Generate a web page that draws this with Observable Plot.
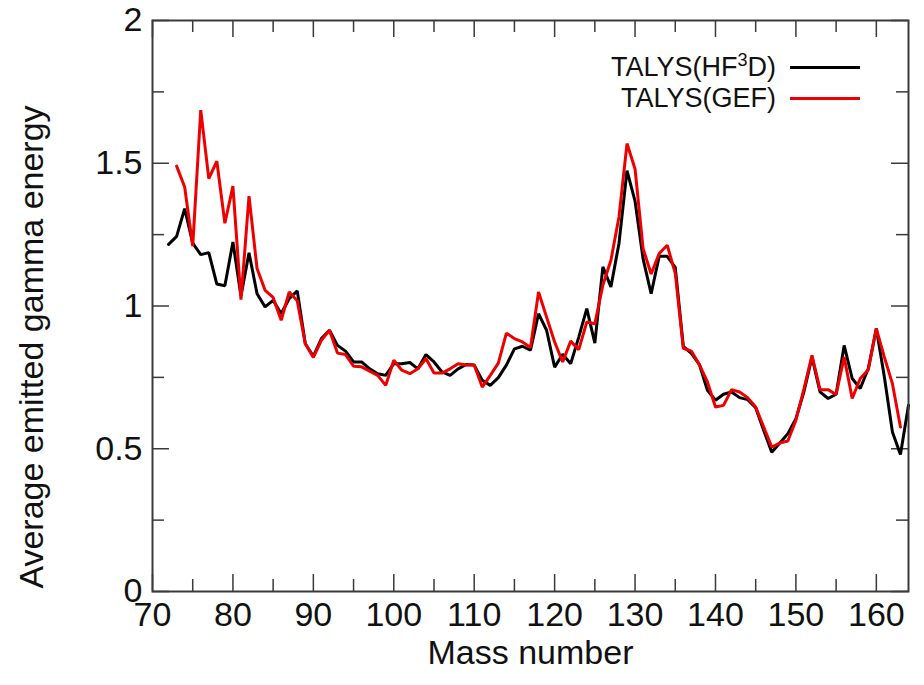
<!DOCTYPE html>
<html>
<head>
<meta charset="utf-8">
<script src="https://cdn.jsdelivr.net/npm/d3@7"></script>
<script src="https://cdn.jsdelivr.net/npm/@observablehq/plot@0.6"></script>
<style>
  html, body { margin: 0; padding: 0; background: #fff; }
  #wrap { position: relative; width: 924px; height: 685px; font-family: "Liberation Sans", Arial, sans-serif; }
  #legend { position: absolute; left: 560px; top: 52px; width: 310px; font-size: 27px; color: #111; }
  .row { display: flex; align-items: center; justify-content: flex-end; height: 31px; }
  .row span { margin-right: 14px; }
  .row sup { font-size: 18px; vertical-align: 10px; line-height: 0; }
  .sw { width: 70px; height: 3px; margin-right: 10px; }
  #ytitle { position: absolute; left: 31px; top: 347px; transform: translate(-50%, -50%) rotate(-90deg); white-space: nowrap; font-size: 34px; color: #111; }
</style>
</head>
<body>
<div id="wrap"></div>
<script>
// Mass numbers and average emitted gamma energies
const massHF3D = [72,73,74,75,76,77,78,79,80,81,82,83,84,85,86,87,88,89,90,91,92,93,94,95,96,97,98,99,100,101,102,103,104,105,106,107,108,109,110,111,112,113,114,115,116,117,118,119,120,121,122,123,124,125,126,127,128,129,130,131,132,133,134,135,136,137,138,139,140,141,142,143,144,145,146,147,148,149,150,151,152,153,154,155,156,157,158,159,160,161,162,163,164];
const gammaHF3D = [1.216,1.244,1.341,1.22,1.18,1.187,1.077,1.071,1.224,1.035,1.186,1.043,0.997,1.02,0.973,1.026,1.053,0.868,0.824,0.886,0.915,0.862,0.842,0.804,0.804,0.78,0.763,0.757,0.798,0.798,0.802,0.78,0.83,0.804,0.769,0.757,0.78,0.795,0.793,0.74,0.722,0.749,0.793,0.85,0.859,0.845,0.973,0.915,0.786,0.831,0.798,0.891,0.991,0.87,1.137,1.067,1.219,1.474,1.367,1.165,1.043,1.174,1.174,1.135,0.859,0.834,0.795,0.705,0.67,0.691,0.699,0.679,0.672,0.644,0.564,0.488,0.52,0.553,0.605,0.70,0.821,0.699,0.676,0.691,0.862,0.746,0.711,0.781,0.921,0.751,0.559,0.48,0.652];

const massGEF = [73,74,75,76,77,78,79,80,81,82,83,84,85,86,87,88,89,90,91,92,93,94,95,96,97,98,99,100,101,102,103,104,105,106,107,108,109,110,111,112,113,114,115,116,117,118,119,120,121,122,123,124,125,126,127,128,129,130,131,132,133,134,135,136,137,138,139,140,141,142,143,144,145,146,147,148,149,150,151,152,153,154,155,156,157,158,159,160,161,162,163];
const gammaGEF = [1.49,1.417,1.21,1.686,1.446,1.507,1.29,1.42,1.022,1.385,1.131,1.055,1.03,0.95,1.049,1.018,0.868,0.82,0.88,0.915,0.835,0.83,0.789,0.787,0.772,0.757,0.722,0.81,0.775,0.763,0.78,0.816,0.765,0.765,0.78,0.798,0.793,0.793,0.716,0.757,0.80,0.905,0.886,0.874,0.855,1.049,0.961,0.874,0.804,0.877,0.847,0.944,0.938,1.073,1.16,1.312,1.569,1.48,1.201,1.112,1.184,1.213,1.114,0.852,0.842,0.795,0.734,0.646,0.652,0.707,0.699,0.679,0.646,0.576,0.506,0.52,0.527,0.60,0.71,0.827,0.707,0.707,0.69,0.821,0.676,0.746,0.777,0.921,0.821,0.728,0.576];

const xMajor = [70,80,90,100,110,120,130,140,150,160];
const xMinor = [75,85,95,105,115,125,135,145,155];
const yMajor = [0,0.5,1,1.5,2];
const yMinor = [0.25,0.75,1.25,1.75];
const seriesNames = ["TALYS(HF3D)", "TALYS(GEF)"];
const xTitle = "Mass number";
const yTitle = "Average emitted gamma energy";

const hf3d = massHF3D.map((a, i) => ({a, v: gammaHF3D[i]}));
const gef = massGEF.map((a, i) => ({a, v: gammaGEF[i]}));

const W = 924, H = 685, mL = 152, mR = 16, mT = 20, mB = 94;
const fw = W - mL - mR, fh = H - mT - mB;
const maj = 17, mnr = 12;
const axisColor = "#3a3a3a";

const chart = Plot.plot({
  width: W, height: H,
  marginLeft: mL, marginRight: mR, marginTop: mT, marginBottom: mB,
  style: {fontFamily: "'Liberation Sans', Arial, sans-serif", color: "#111", background: "#fff"},
  x: {domain: [70, 164]},
  y: {domain: [0, 2]},
  marks: [
    // inward ticks, mirrored on all four sides
    Plot.ruleX(xMajor, {x: d => d, insetTop: fh - maj, stroke: axisColor, strokeWidth: 1.5}),
    Plot.ruleX(xMajor, {x: d => d, insetBottom: fh - maj, stroke: axisColor, strokeWidth: 1.5}),
    Plot.ruleX(xMinor, {x: d => d, insetTop: fh - mnr, stroke: axisColor, strokeWidth: 1.5}),
    Plot.ruleX(xMinor, {x: d => d, insetBottom: fh - mnr, stroke: axisColor, strokeWidth: 1.5}),
    Plot.ruleY(yMajor, {y: d => d, insetRight: fw - maj, stroke: axisColor, strokeWidth: 1.5}),
    Plot.ruleY(yMajor, {y: d => d, insetLeft: fw - maj, stroke: axisColor, strokeWidth: 1.5}),
    Plot.ruleY(yMinor, {y: d => d, insetRight: fw - mnr, stroke: axisColor, strokeWidth: 1.5}),
    Plot.ruleY(yMinor, {y: d => d, insetLeft: fw - mnr, stroke: axisColor, strokeWidth: 1.5}),
    Plot.axisX({ticks: xMajor, tickSize: 0, tickPadding: 10, fontSize: 34, label: null, tickFormat: d => String(d)}),
    Plot.axisY({ticks: yMajor, tickSize: 0, tickPadding: 10, fontSize: 34, label: null, tickFormat: d => String(d)}),
    Plot.line(hf3d, {x: "a", y: "v", stroke: "#000", strokeWidth: 3, strokeLinejoin: "miter"}),
    Plot.line(gef, {x: "a", y: "v", stroke: "#ee0000", strokeWidth: 3, strokeLinejoin: "miter"}),
    Plot.frame({stroke: axisColor, strokeWidth: 2}),
    Plot.text([xTitle], {text: d => d, frameAnchor: "bottom", dy: 72, fontSize: 34, fill: "#111"})
  ]
});

const wrap = document.getElementById("wrap");
wrap.appendChild(chart);

const yt = document.createElement("div");
yt.id = "ytitle";
yt.textContent = yTitle;
wrap.appendChild(yt);

const legend = document.createElement("div");
legend.id = "legend";
const colors = ["#000", "#ee0000"];
seriesNames.forEach((name, i) => {
  const row = document.createElement("div");
  row.className = "row";
  const label = document.createElement("span");
  if (name.includes("HF3D")) {
    label.innerHTML = "TALYS(HF<sup>3</sup>D)";
  } else {
    label.textContent = name;
  }
  const sw = document.createElement("div");
  sw.className = "sw";
  sw.style.background = colors[i];
  row.appendChild(label);
  row.appendChild(sw);
  legend.appendChild(row);
});
wrap.appendChild(legend);
</script>
</body>
</html>
